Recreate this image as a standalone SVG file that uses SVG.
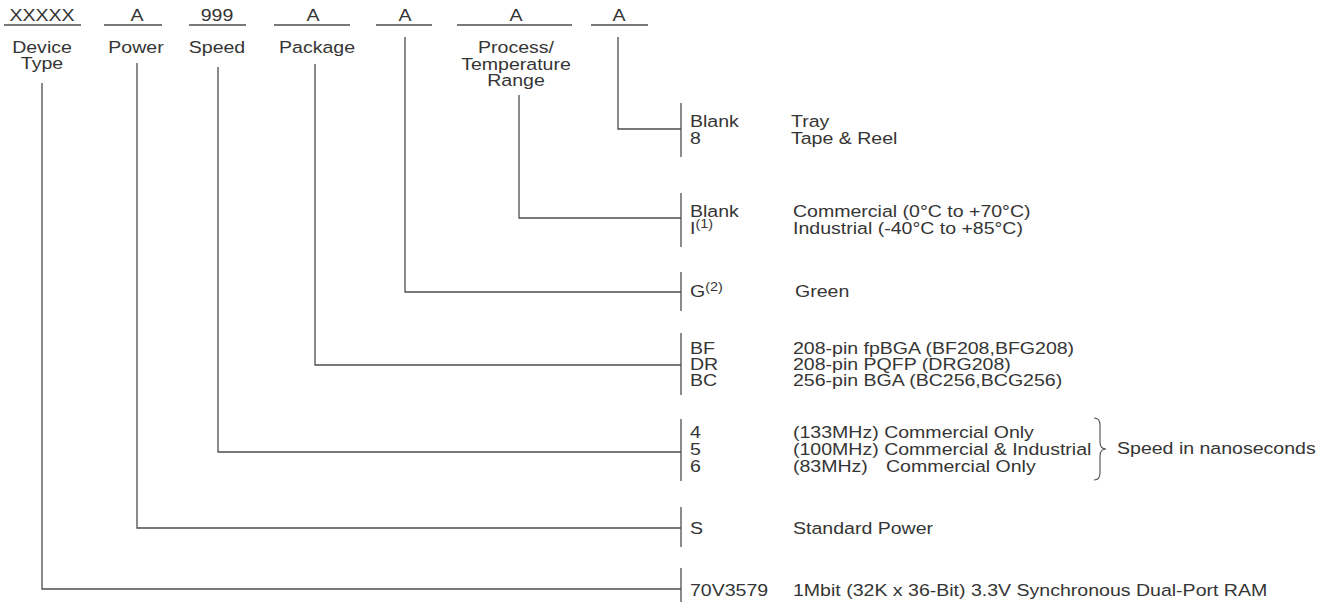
<svg xmlns="http://www.w3.org/2000/svg" width="1327" height="602" viewBox="0 0 1327 602">
<style>
text{font-family:"Liberation Sans",Arial,sans-serif;font-size:17px;fill:#353535}
.c{text-anchor:middle}
.sup{font-size:12.5px}
.ul,.bar,.conn{stroke:#4d4d4d;stroke-width:1.3;fill:none}
.brace{stroke:#4d4d4d;stroke-width:1.1;fill:none}
</style>
<rect width="1327" height="602" fill="#fff"/>
<g id="field-device">
<text class="c" transform="translate(42,21) scale(1.15,1)">XXXXX</text>
<line class="ul" x1="4" y1="25" x2="81" y2="25"/>
<text class="c" transform="translate(42,53) scale(1.15,1)">Device</text>
<text class="c" transform="translate(42,69) scale(1.15,1)">Type</text>
</g>
<g id="field-power">
<text class="c" transform="translate(137,21) scale(1.15,1)">A</text>
<line class="ul" x1="104" y1="25" x2="162" y2="25"/>
<text class="c" transform="translate(136,53) scale(1.15,1)">Power</text>
</g>
<g id="field-speed">
<text class="c" transform="translate(217,21) scale(1.15,1)">999</text>
<line class="ul" x1="189" y1="25" x2="246" y2="25"/>
<text class="c" transform="translate(217,53) scale(1.15,1)">Speed</text>
</g>
<g id="field-package">
<text class="c" transform="translate(313,21) scale(1.15,1)">A</text>
<line class="ul" x1="274" y1="25" x2="350" y2="25"/>
<text class="c" transform="translate(317,53) scale(1.15,1)">Package</text>
</g>
<g id="field-green">
<text class="c" transform="translate(405,21) scale(1.15,1)">A</text>
<line class="ul" x1="376" y1="25" x2="432" y2="25"/>
</g>
<g id="field-process">
<text class="c" transform="translate(516,21) scale(1.15,1)">A</text>
<line class="ul" x1="457" y1="25" x2="572" y2="25"/>
<text class="c" transform="translate(516,53) scale(1.15,1)">Process/</text>
<text class="c" transform="translate(516,70) scale(1.15,1)">Temperature</text>
<text class="c" transform="translate(516,86) scale(1.15,1)">Range</text>
</g>
<g id="field-packing">
<text class="c" transform="translate(619,21) scale(1.15,1)">A</text>
<line class="ul" x1="591" y1="25" x2="648" y2="25"/>
</g>
<g id="connectors">
<path class="conn" d="M618,37V129H681"/>
<path class="conn" d="M519,95V218H681"/>
<path class="conn" d="M405,37V292H681"/>
<path class="conn" d="M315,64V365H681"/>
<path class="conn" d="M218,67V452H681"/>
<path class="conn" d="M137,63V528H681"/>
<path class="conn" d="M42,83V589H681"/>
</g>
<g id="opt-packing">
<line class="bar" x1="681" y1="103" x2="681" y2="157"/>
<text transform="translate(690,127) scale(1.15,1)">Blank</text>
<text transform="translate(690,144) scale(1.15,1)">8</text>
<text transform="translate(791,127) scale(1.15,1)">Tray</text>
<text transform="translate(791,144) scale(1.15,1)">Tape &amp; Reel</text>
</g>
<g id="opt-process">
<line class="bar" x1="681" y1="193" x2="681" y2="247"/>
<text transform="translate(690,217) scale(1.15,1)">Blank</text>
<text transform="translate(690,234) scale(1.15,1)">I<tspan class="sup" dy="-6">(1)</tspan></text>
<text transform="translate(793,217) scale(1.15,1)">Commercial (0°C to +70°C)</text>
<text transform="translate(793,234) scale(1.15,1)">Industrial (-40°C to +85°C)</text>
</g>
<g id="opt-green">
<line class="bar" x1="681" y1="272" x2="681" y2="311"/>
<text transform="translate(690,297) scale(1.15,1)">G<tspan class="sup" dy="-6">(2)</tspan></text>
<text transform="translate(795,297) scale(1.15,1)">Green</text>
</g>
<g id="opt-package">
<line class="bar" x1="681" y1="333" x2="681" y2="395"/>
<text transform="translate(690,354) scale(1.15,1)">BF</text>
<text transform="translate(690,370) scale(1.15,1)">DR</text>
<text transform="translate(690,386) scale(1.15,1)">BC</text>
<text transform="translate(793,354) scale(1.15,1)">208-pin fpBGA (BF208,BFG208)</text>
<text transform="translate(793,370) scale(1.15,1)">208-pin PQFP (DRG208)</text>
<text transform="translate(793,386) scale(1.15,1)">256-pin BGA (BC256,BCG256)</text>
</g>
<g id="opt-speed">
<line class="bar" x1="681" y1="419" x2="681" y2="481"/>
<text transform="translate(690,438) scale(1.15,1)">4</text>
<text transform="translate(690,455) scale(1.15,1)">5</text>
<text transform="translate(690,472) scale(1.15,1)">6</text>
<text transform="translate(793,438) scale(1.15,1)">(133MHz) Commercial Only</text>
<text transform="translate(793,455) scale(1.15,1)">(100MHz) Commercial &amp; Industrial</text>
<text transform="translate(793,472) scale(1.15,1)">(83MHz)</text>
<text transform="translate(886,472) scale(1.15,1)">Commercial Only</text>
<path class="brace" d="M1094,418Q1100,418 1100,425V442Q1100,449 1106,449Q1100,449 1100,456V473Q1100,480 1094,480"/>
<text transform="translate(1117,454) scale(1.15,1)">Speed in nanoseconds</text>
</g>
<g id="opt-power">
<line class="bar" x1="681" y1="507" x2="681" y2="547"/>
<text transform="translate(690,534) scale(1.15,1)">S</text>
<text transform="translate(793,534) scale(1.15,1)">Standard Power</text>
</g>
<g id="opt-device">
<line class="bar" x1="681" y1="568" x2="681" y2="602"/>
<text transform="translate(690,596) scale(1.15,1)">70V3579</text>
<text transform="translate(793,596) scale(1.15,1)">1Mbit (32K x 36-Bit) 3.3V Synchronous Dual-Port RAM</text>
</g>
</svg>
